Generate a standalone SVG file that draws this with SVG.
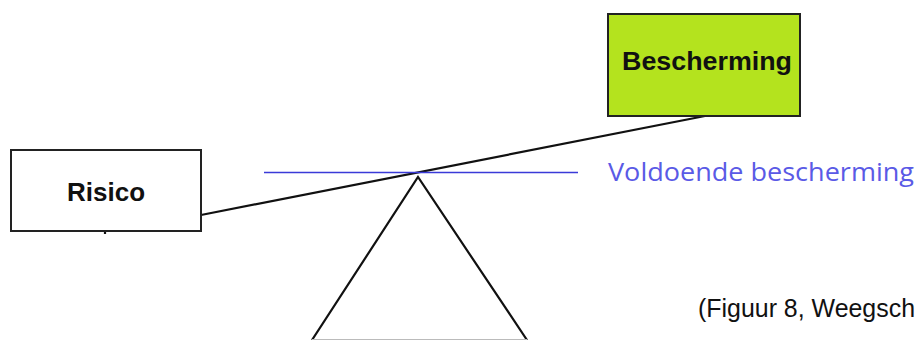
<svg xmlns="http://www.w3.org/2000/svg" width="921" height="340" viewBox="0 0 921 340">
  <style>
    .box { stroke: #222; stroke-width: 2; }
    .label { font-family: "Liberation Sans", Arial, sans-serif; font-weight: bold; font-size: 26px; fill: #111; text-anchor: middle; }
    .note { font-family: "Open Sans", "Liberation Sans", sans-serif; font-size: 26px; }
    .caption { font-family: "Liberation Sans", Arial, sans-serif; font-size: 25px; fill: #111; }
    .beam { stroke: #111; stroke-width: 2.2; fill: none; }
  </style>
  <rect width="921" height="340" fill="#fff"/>

  <g id="connectors">
    <!-- balance beam resting on the fulcrum -->
    <line class="beam" x1="201" y1="215" x2="705" y2="116"/>
    <line class="beam" x1="105" y1="231" x2="105" y2="234"/>
    <!-- threshold line -->
    <line x1="264" y1="172.5" x2="578" y2="172.5" stroke="#3a3ad8" stroke-width="1.6"/>
  </g>

  <g id="fulcrum">
    <polyline points="312,340 418,177 527,340" fill="none" stroke="#111" stroke-width="2.2"/>
    <line x1="312" y1="339.5" x2="527" y2="339.5" stroke="#bbb" stroke-width="1"/>
  </g>

  <g id="risico">
    <rect class="box" x="11" y="150" width="190" height="81" fill="#fff"/>
    <text class="label" x="106" y="201">Risico</text>
  </g>

  <g id="bescherming">
    <rect class="box" x="608" y="14" width="192" height="102" fill="#b4e31e"/>
    <text class="label" x="707" y="70" textLength="170" lengthAdjust="spacingAndGlyphs">Bescherming</text>
  </g>

  <g id="voldoende">
    <text class="note" x="608" y="181" fill="#5a5ae6" textLength="306" lengthAdjust="spacingAndGlyphs">Voldoende bescherming</text>
  </g>

  <g id="caption">
    <text class="caption" x="698" y="317" textLength="217" lengthAdjust="spacingAndGlyphs">(Figuur 8, Weegsch</text>
  </g>
</svg>
